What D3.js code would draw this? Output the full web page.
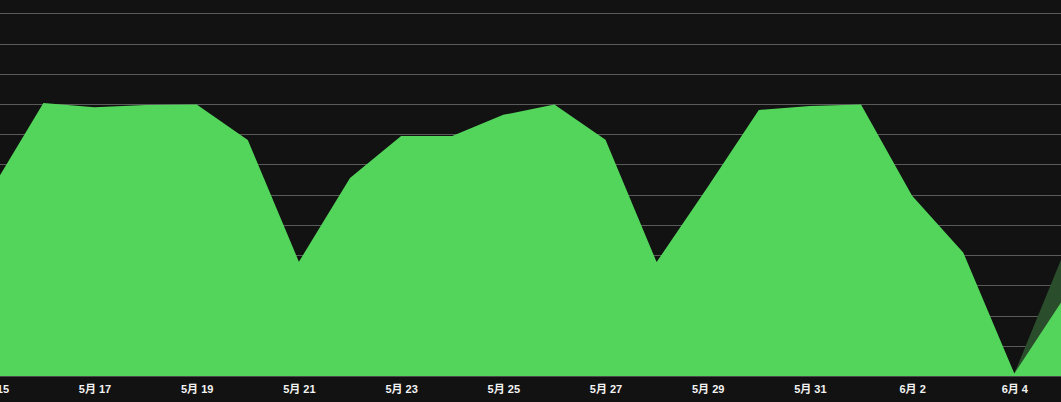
<!DOCTYPE html>
<html>
<head>
<meta charset="utf-8">
<script src="https://cdn.jsdelivr.net/npm/d3@7"></script>
<style>
  html, body { margin: 0; padding: 0; background: #121212; }
  svg { display: block; }
</style>
</head>
<body>
<svg id="chart" width="1061" height="402"></svg>
<script>
// ---- data ----
const dates = [
  "2024-05-15","2024-05-16","2024-05-17","2024-05-18","2024-05-19","2024-05-20",
  "2024-05-21","2024-05-22","2024-05-23","2024-05-24","2024-05-25","2024-05-26",
  "2024-05-27","2024-05-28","2024-05-29","2024-05-30","2024-05-31","2024-06-01",
  "2024-06-02","2024-06-03","2024-06-04","2024-06-05"
];
const mainValues = [6.22, 9.03, 8.89, 8.97, 8.98, 7.81, 3.78, 6.55, 7.94, 7.94, 8.64, 8.98,
                    7.82, 3.77, 6.25, 8.80, 8.93, 8.98, 5.96, 4.09, 0.08, 2.65];
const secondValues = [6.0, 8.8, 8.7, 8.8, 8.8, 7.6, 3.6, 6.3, 7.7, 7.7, 8.4, 8.8,
                      7.6, 3.6, 6.0, 8.6, 8.7, 8.8, 5.8, 3.9, 0.08, 4.2];
const xTickDates = ["2024-05-15","2024-05-17","2024-05-19","2024-05-21","2024-05-23","2024-05-25",
                    "2024-05-27","2024-05-29","2024-05-31","2024-06-02","2024-06-04"];
const gridValues = [1,2,3,4,5,6,7,8,9,10,11,12];

// ---- layout ----
const W = 1061, H = 402;
const plotBottom = 376, plotTop = 0;
const parse = d3.timeParse("%Y-%m-%d");
const svg = d3.select("#chart");

svg.append("rect").attr("width", W).attr("height", H).attr("fill", "#121212");

const x = d3.scaleTime()
  .domain([parse("2024-05-15"), parse("2024-06-05")])
  .range([-7.7, -7.7 + 21 * 51.1]);
const y = d3.scaleLinear().domain([0, 12]).range([plotBottom, 13.3]);

svg.append("defs").append("clipPath").attr("id", "clip")
  .append("rect").attr("x", 0).attr("y", plotTop).attr("width", W).attr("height", plotBottom - plotTop);

// grid lines
svg.append("g").selectAll("line").data(gridValues).join("line")
  .attr("x1", 0).attr("x2", W)
  .attr("y1", d => Math.round(y(d)) + 0.5).attr("y2", d => Math.round(y(d)) + 0.5)
  .attr("stroke", "#5a5a5a").attr("stroke-width", 1);

const mainData = dates.map((d, i) => ({ date: parse(d), v: mainValues[i] }));
const secondData = dates.map((d, i) => ({ date: parse(d), v: secondValues[i] }));

const area = d3.area()
  .x(d => x(d.date))
  .y0(y(0))
  .y1(d => y(d.v))
  .curve(d3.curveLinear);

const g = svg.append("g").attr("clip-path", "url(#clip)");
g.append("path").datum(secondData).attr("d", area).attr("fill", "#2a4d2c");
g.append("path").datum(mainData).attr("d", area).attr("fill", "#53d55b");

// axis line
svg.append("line").attr("x1", 0).attr("x2", W)
  .attr("y1", plotBottom + 0.5).attr("y2", plotBottom + 0.5)
  .attr("stroke", "#4a4a4a").attr("stroke-width", 1);

// x axis labels
const xAxis = d3.axisBottom(x)
  .tickValues(xTickDates.map(parse))
  .tickSize(0)
  .tickPadding(0)
  .tickFormat(d => (d.getMonth() + 1) + "月 " + d.getDate());
const ax = svg.append("g").attr("transform", `translate(0,${plotBottom})`).call(xAxis);
ax.select(".domain").remove();
ax.selectAll("text")
  .attr("y", 17)
  .attr("dy", "0")
  .attr("fill", "#f2f2f2")
  .attr("font-family", "'Liberation Sans', Arial, 'Noto Sans CJK SC', sans-serif")
  .attr("font-size", 11)
  .attr("font-weight", "bold");
</script>
</body>
</html>
